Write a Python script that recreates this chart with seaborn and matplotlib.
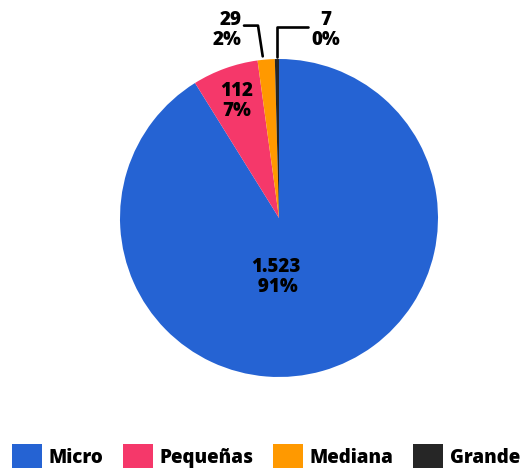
import numpy as np
import seaborn as sns
import matplotlib.pyplot as plt
from matplotlib.patches import Patch

sns.set_style("white")
plt.rcParams['font.family'] = ['Open Sans', 'DejaVu Sans']

categories = ['Micro', 'Pequeñas', 'Mediana', 'Grande']
counts = [1523, 112, 29, 7]
colors = ['#2563d3', '#f5386a', '#ff9900', '#262626']

total = sum(counts)
pcts = [c / total * 100 for c in counts]

def fmt_num(n):
    return f"{n:,}".replace(',', '.')

fig = plt.figure(figsize=(5.23, 4.68), dpi=100)
r_px = 159
ax = fig.add_axes([(279 - r_px) / 523, (468 - 218 - r_px) / 468, 2 * r_px / 523, 2 * r_px / 468])

wedges, _ = ax.pie(counts, colors=colors, startangle=90, counterclock=False,
                   wedgeprops=dict(linewidth=0))
ax.set_xlim(-1, 1)
ax.set_ylim(-1, 1)
ax.set_aspect('equal')

# mid angle of each slice (math angle, degrees)
mids = [(w.theta1 + w.theta2) / 2 for w in wedges]

txt = dict(fontsize=13.5, fontweight='heavy', color='black', linespacing=1.0)

# big slices: label inside
ax.text(-0.02, -0.37, f"{fmt_num(counts[0])}\n {pcts[0]:.0f}%", ha='center', va='center', **txt)
a = np.deg2rad(mids[1])
ax.text(0.78 * np.cos(a), 0.78 * np.sin(a), f"{fmt_num(counts[1])}\n{pcts[1]:.0f}%",
        ha='center', va='center', **txt)

# small slices: leader lines
a = np.deg2rad(mids[2])
x0, y0 = 1.02 * np.cos(a) - 0.02, 1.02 * np.sin(a)
ax.plot([x0, -0.132, -0.22], [y0, 1.21, 1.21], color='black', lw=1.9, clip_on=False)
ax.text(-0.235, 1.18, f"{fmt_num(counts[2])}\n{pcts[2]:.0f}%", ha='right', va='center', **txt)

a = np.deg2rad(mids[3])
x0, y0 = 1.01 * np.cos(a), 1.01 * np.sin(a)
ax.plot([x0, x0, 0.18], [y0, 1.20, 1.20], color='black', lw=1.9, clip_on=False)
ax.text(0.296, 1.18, f"{fmt_num(counts[3])}\n{pcts[3]:.0f}%", ha='center', va='center', **txt)

handles = [Patch(facecolor=c, edgecolor='none', label=l) for c, l in zip(colors, categories)]
leg = fig.legend(handles=handles, loc='lower center', bbox_to_anchor=(0.508, -0.037), ncol=4,
                 frameon=False, handlelength=1.6, handleheight=1.6, handletextpad=0.35,
                 columnspacing=1.05, labelcolor='black',
                 prop=dict(family='Open Sans', weight='heavy', size=13.5))

fig.savefig('out.png', dpi=100)
